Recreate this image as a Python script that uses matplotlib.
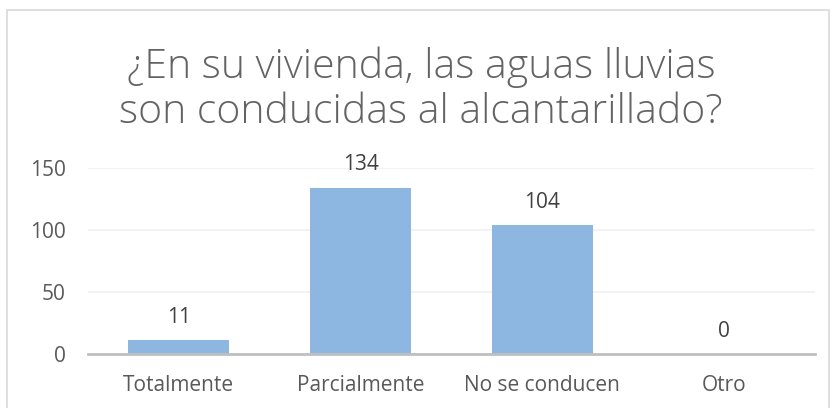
import matplotlib
matplotlib.use("Agg")
import matplotlib.pyplot as plt
from matplotlib.patches import Rectangle

categories = ["Totalmente", "Parcialmente", "No se conducen", "Otro"]
values = [11, 134, 104, 0]
yticks = [0, 50, 100, 150]
title = "¿En su vivienda, las aguas lluvias\nson conducidas al alcantarillado?"

text_color = "#595959"
bar_color = "#8DB6E1"

fig = plt.figure(figsize=(8.32, 4.08), dpi=100)
fig.patch.set_facecolor("white")

# outer chart border
fig.patches.append(Rectangle((7 / 832, -0.05), 822 / 832, 1 - 10 / 408 + 0.05,
                             transform=fig.transFigure, fill=False,
                             edgecolor="#D9D9D9", linewidth=1.2))

ax = fig.add_axes([88 / 832, (408 - 354) / 408, (815 - 88) / 832, (354 - 168) / 408])
ax.set_facecolor("white")

x = range(len(categories))
ax.bar(x, values, width=0.555, color=bar_color, zorder=3)
for xi, v in zip(x, values):
    ax.annotate(str(v), (xi, v), xytext=(0, 16.5), textcoords="offset points",
                ha="center", va="center", fontsize=15, color="#404040",
                family="Open Sans")

ax.set_xlim(-0.5, len(categories) - 0.5)
ax.set_ylim(0, 150)
ax.set_yticks(yticks)
ax.set_xticks(list(x))
ax.set_xticklabels(categories)
ax.grid(axis="y", color="#F0F0F0", linewidth=1.2, zorder=0)
for s in ["top", "right", "left"]:
    ax.spines[s].set_visible(False)
ax.spines["bottom"].set_color("#BFBFBF")
ax.spines["bottom"].set_linewidth(2)
ax.spines["bottom"].set_zorder(4)
ax.tick_params(axis="both", length=0, labelsize=15, labelcolor=text_color)
ax.tick_params(axis="x", pad=15)
ax.tick_params(axis="y", pad=16)
for lab in ax.get_xticklabels() + ax.get_yticklabels():
    lab.set_family("Open Sans")

fig.text(0.506, 0.78, title, ha="center", va="center", fontsize=29.5,
         color="#636363", linespacing=1.15,
         family=["Open Sans"], fontweight="light")

fig.savefig("out.png", dpi=100)
